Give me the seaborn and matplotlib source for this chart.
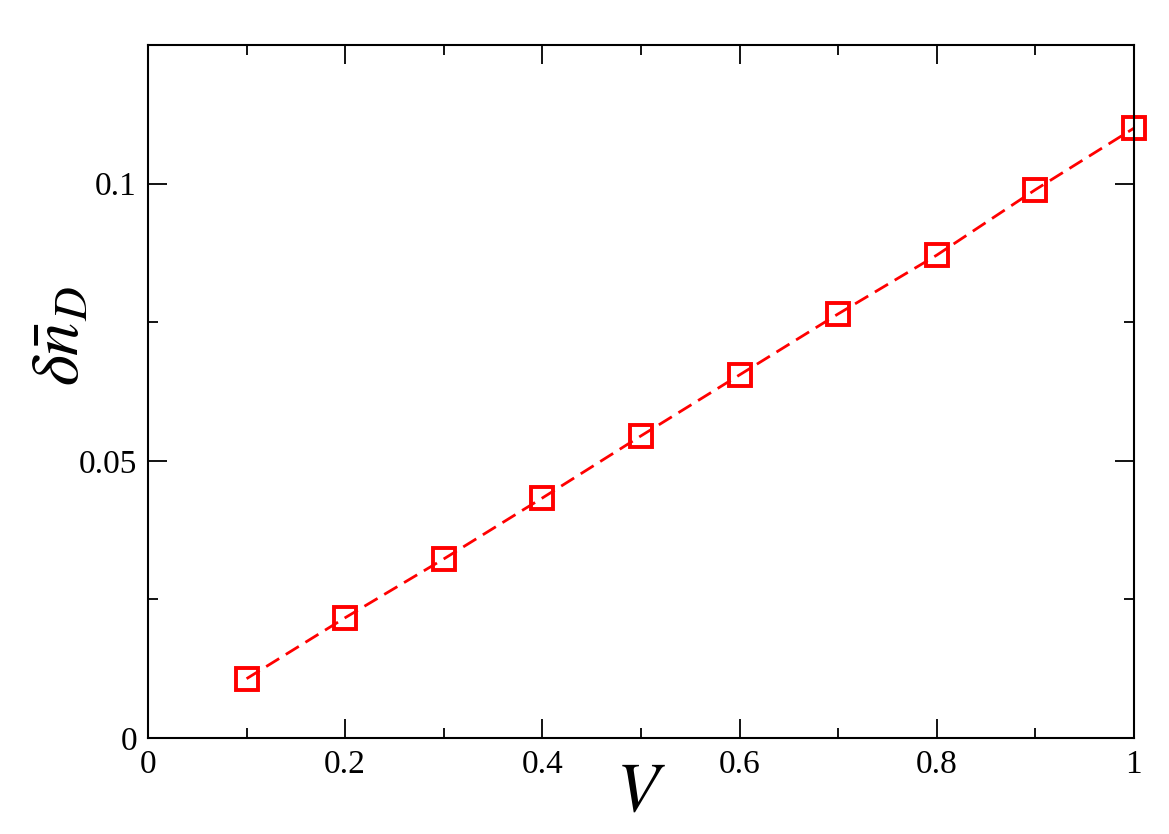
import matplotlib
matplotlib.use("Agg")
import matplotlib.pyplot as plt
from matplotlib.ticker import MultipleLocator
import seaborn as sns
import pandas as pd

V = [0.1, 0.2, 0.3, 0.4, 0.5, 0.6, 0.7, 0.8, 0.9, 1.0]
dn = [0.0107, 0.0217, 0.0323, 0.0433, 0.0545, 0.0655, 0.0765, 0.0871, 0.0989, 0.110]
xticks = [0, 0.2, 0.4, 0.6, 0.8, 1]
xticklabels = ["0", "0.2", "0.4", "0.6", "0.8", "1"]
yticks = [0, 0.05, 0.1]
yticklabels = ["0", "0.05", "0.1"]

sns.set_theme(style="ticks")
plt.rcParams['font.family'] = ['Liberation Serif', 'DejaVu Serif']
plt.rcParams['mathtext.fontset'] = 'stix'
plt.rcParams['text.color'] = 'black'
plt.rcParams['axes.labelcolor'] = 'black'
plt.rcParams['xtick.color'] = 'black'
plt.rcParams['ytick.color'] = 'black'

df = pd.DataFrame({"V": V, "dn": dn})

fig = plt.figure(figsize=(11.69, 8.34), dpi=100)
ax = fig.add_axes([0.1266, 0.1151, 0.9700 - 0.1266, 0.946 - 0.1151])

sns.lineplot(data=df, x="V", y="dn", ax=ax, color="#ff0000", linewidth=2.0,
             linestyle=(0, (5.5, 2.8)), marker="s", markersize=16,
             markerfacecolor="none", markeredgecolor="#ff0000", markeredgewidth=2.8,
             clip_on=False)

ax.set_xlim(0, 1)
ax.set_ylim(0, 0.125)
ax.set_xticks(xticks)
ax.set_xticklabels(xticklabels)
ax.set_yticks(yticks)
ax.set_yticklabels(yticklabels)
ax.xaxis.set_minor_locator(MultipleLocator(0.1))
ax.yaxis.set_minor_locator(MultipleLocator(0.025))

ax.tick_params(which="both", direction="in", top=True, right=True, width=1.3,
               color="black", labelcolor="black")
ax.tick_params(which="major", length=14, labelsize=24, pad=8)
ax.tick_params(which="minor", length=7)
for s in ax.spines.values():
    s.set_linewidth(1.5)
    s.set_color("black")

ax.set_xlabel(r"$V$", fontsize=50)
ax.xaxis.set_label_coords(0.5, -0.035, transform=ax.transAxes)
ax.xaxis.label.set_va("top")
ax.set_ylabel(r"$\delta\bar{n}_D$", fontsize=48)
ax.yaxis.label.set_va("center")
ax.yaxis.set_label_coords(-0.088, 0.58)

fig.savefig("out.png", dpi=100)
